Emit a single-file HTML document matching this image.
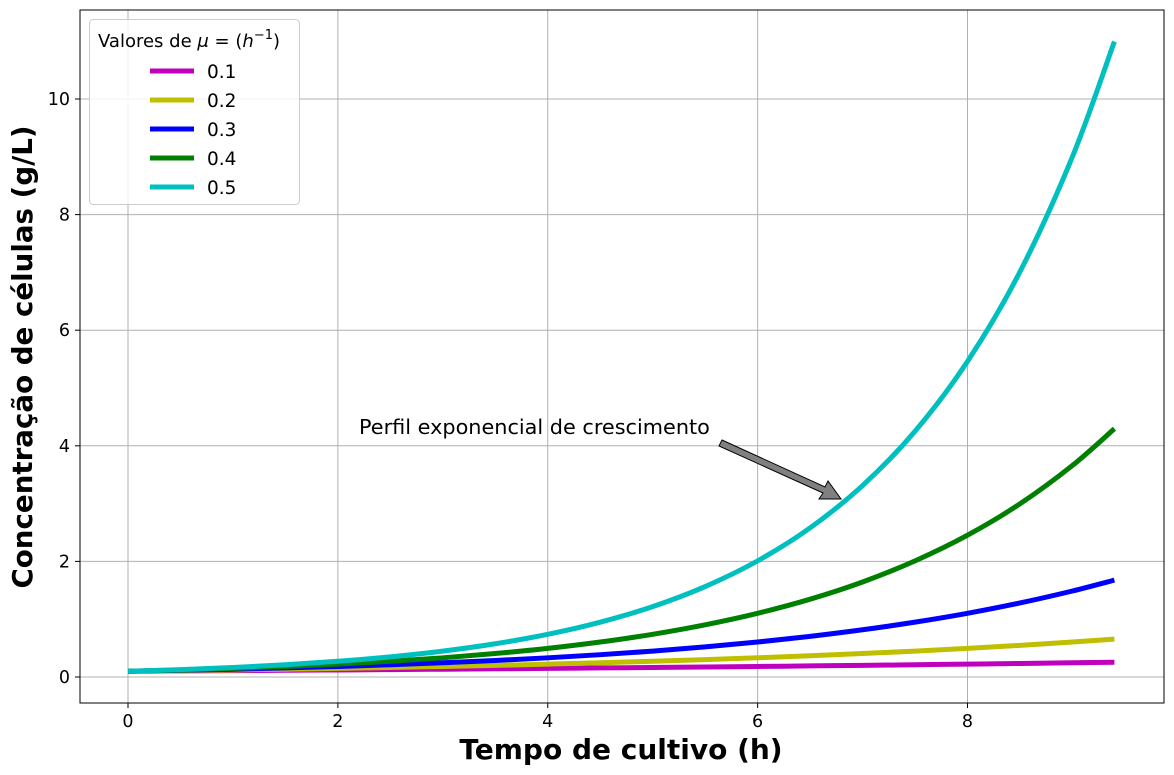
<!DOCTYPE html>
<html><head><meta charset="utf-8"><style>
html,body{margin:0;padding:0;background:#fff;}
svg{display:block;font-family:"DejaVu Sans","Liberation Sans",sans-serif;}
</style></head><body>
<svg id="chart" width="1174" height="775" xmlns="http://www.w3.org/2000/svg"></svg>
<script>
const times=[0,0.5,1,1.5,2,2.5,3,3.5,4,4.5,5,5.5,6,6.5,7,7.5,8,8.5,9,9.4];
const mu01=[.100,.105,.111,.116,.122,.128,.135,.142,.149,.157,.165,.173,.182,.192,.201,.212,.223,.234,.246,.256];
const mu02=[.100,.111,.122,.135,.149,.165,.182,.201,.223,.246,.272,.300,.332,.367,.406,.448,.495,.547,.605,.655];
const mu03=[.100,.116,.135,.157,.182,.212,.246,.286,.332,.386,.448,.521,.605,.703,.817,.949,1.102,1.281,1.488,1.676];
const mu04=[.100,.122,.149,.182,.223,.272,.332,.406,.495,.605,.739,.903,1.102,1.346,1.644,2.009,2.453,2.996,3.660,4.296];
const mu05=[.100,.128,.165,.212,.272,.349,.448,.575,.739,.949,1.218,1.565,2.009,2.580,3.312,4.252,5.460,7.011,9.002,10.995];
const seriesLabels=["0.1","0.2","0.3","0.4","0.5"];
const xTicks=[0,2,4,6,8];
const yTicks=[0,2,4,6,8,10];
const colors=["#bf00bf","#bfbf00","#0000ff","#008000","#00bfbf"];
const series=[mu01,mu02,mu03,mu04,mu05];

const NS="http://www.w3.org/2000/svg";
const svg=document.getElementById('chart');
const L=80,R=1164,T=10,B=703;
const xs=t=>128+(t-0)*(967.5-128)/8;
const ys=v=>677-v*(677-99)/10;
function el(tag,attrs,parent){const e=document.createElementNS(NS,tag);for(const k in attrs)e.setAttribute(k,attrs[k]);(parent||svg).appendChild(e);return e;}

xTicks.forEach(t=>{
  const g=el('line',{x1:xs(t),x2:xs(t),y1:T,y2:B,stroke:'#b0b0b0','stroke-width':1});
  
  
  const tk=el('line',{x1:xs(t),x2:xs(t),y1:B,y2:B+5,stroke:'#000'});
  
  
  const tx=el('text',{x:xs(t),y:B+24,'text-anchor':'middle','font-size':17.5});
  tx.textContent=t;
  
  
});
yTicks.forEach(v=>{
  const g=el('line',{x1:L,x2:R,y1:ys(v),y2:ys(v),stroke:'#b0b0b0','stroke-width':1});
  
  
  const tk=el('line',{x1:L-5,x2:L,y1:ys(v),y2:ys(v),stroke:'#000'});
  
  
  const tx=el('text',{x:L-10,y:ys(v)+6,'text-anchor':'end','font-size':17.5});
  tx.textContent=v;
  
  
});

function pathFor(vals){
  const p=times.map((t,i)=>[xs(t),ys(vals[i])]);
  let d=`M${p[0][0]},${p[0][1]}`;
  for(let i=0;i<p.length-1;i++){
    const p0=p[Math.max(i-1,0)],p1=p[i],p2=p[i+1],p3=p[Math.min(i+2,p.length-1)];
    const c1=[p1[0]+(p2[0]-p0[0])/6,p1[1]+(p2[1]-p0[1])/6];
    const c2=[p2[0]-(p3[0]-p1[0])/6,p2[1]-(p3[1]-p1[1])/6];
    d+=`C${c1[0]},${c1[1]} ${c2[0]},${c2[1]} ${p2[0]},${p2[1]}`;
  }
  return d;
}
series.forEach((s,i)=>{
  const pth=el('path',{d:pathFor(s),fill:'none',stroke:colors[i],'stroke-width':5});
  
  
});

const fr=el('rect',{x:L,y:T,width:R-L,height:B-T,fill:'none',stroke:'#000','stroke-width':1});



const at=el('text',{x:359,y:434,'font-size':20.8});
at.textContent='Perfil exponencial de crescimento';


const ar=el('polygon',{points:'722,440 825,487 828,481 841,499 819,499 823,493 719,446',fill:'#808080',stroke:'#000','stroke-width':1});



const xt=el('text',{x:621,y:759,'text-anchor':'middle','font-size':28,'font-weight':'bold'});
xt.textContent='Tempo de cultivo (h)';


const yt=el('text',{x:0,y:0,'text-anchor':'middle','font-size':27.7,'font-weight':'bold',transform:'translate(32,357) rotate(-90)'});
yt.textContent='Concentração de células (g/L)';



const lg=el('rect',{x:89.5,y:19.5,width:210,height:185,rx:4,fill:'#fff','fill-opacity':0.85,stroke:'#ccc'});


const lt=el('text',{x:98,y:47,'font-size':18});
lt.innerHTML='Valores de <tspan font-style="italic">μ</tspan> = (<tspan font-style="italic">h</tspan><tspan dy="-8" font-size="13">−1</tspan><tspan dy="8">)</tspan>';


seriesLabels.forEach((lab,i)=>{
  const y=71+i*29;
  const ln=el('line',{x1:150,x2:194,y1:y,y2:y,stroke:colors[i],'stroke-width':5});
  
  
  const tx=el('text',{x:207,y:y+7,'font-size':18.5});
  tx.textContent=lab;
  
  
});
</script>
</body></html>
